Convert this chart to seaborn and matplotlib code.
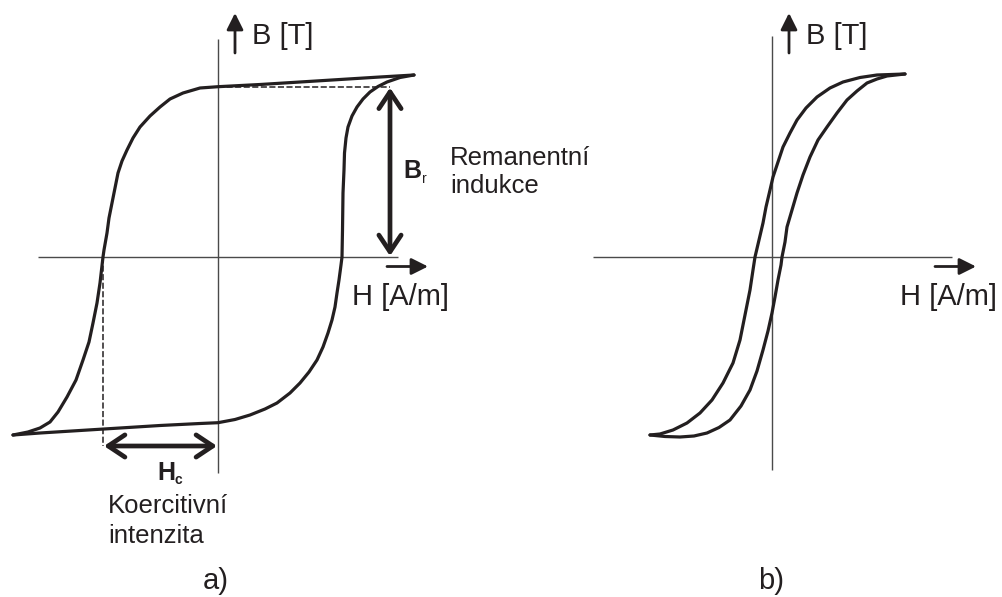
import matplotlib
matplotlib.use("Agg")
import matplotlib.pyplot as plt
import seaborn as sns

# Hysteresis loops, H and B in arbitrary units (origin at the axis crossing)
# a) hard magnetic material: wide, rectangular loop
Ha_down = [196, 162, 122, 82, 42, 0, -18, -35, -48, -58, -68, -78, -85, -91, -96,
           -100, -103, -106, -109, -111, -114, -115, -118, -121, -125, -129, -135,
           -142, -151, -160, -168, -178, -190, -205]
Ba_down = [182, 180, 177.5, 175, 172.5, 170.3, 169, 164, 158, 150, 141, 130, 119, 107,
           96, 84, 69, 54, 39, 24, 7, 0, -26, -46, -66, -85, -103, -123, -140, -155,
           -165, -171, -175, -178]
Ha_up = [-205, -178, -138, -98, -58, -18, 0, 17, 32, 47, 59, 72, 82, 91, 99, 105, 110,
         114, 117, 119, 121, 123, 124, 124.5, 125, 126, 126.5, 128, 130, 134, 139, 145,
         152, 160, 169, 182, 196]
Ba_up = [-178, -176, -173.5, -171, -168.5, -166.5, -165.7, -162.5, -158, -152, -146,
         -136, -126, -115, -103, -90, -76, -63, -50, -36, -23, -8, 0, 27, 64, 87, 104,
         119, 130, 141, 150, 158, 165, 170.5, 175, 179.5, 182]
Br_a = 170.3      # remanent induction
Hc_a = -115       # coercive intensity

# b) soft magnetic material: narrow loop
Hb_down = [133, 105, 88, 71, 58, 45, 34, 25, 18, 11, 6, 1, -2, -6, -9, -13, -17, -19,
           -22, -27, -32, -39, -49, -60, -72, -85, -99, -112, -122]
Bb_down = [183, 182, 179.5, 175, 169, 160, 149, 137, 124, 110, 95, 80, 67, 50, 34, 17,
           0, -13, -33, -58, -83, -106, -126, -143, -156, -166, -173, -177, -178]
Hb_up = [-122, -107, -92, -78, -65, -53, -42, -31, -22, -15, -9, -4, 0, 3, 6, 9, 10, 13,
         15, 20, 25, 31, 38, 46, 55, 65, 75, 85, 95, 105, 115, 133]
Bb_up = [-178, -179.5, -180, -179, -176, -170.5, -163, -149, -133, -114, -93, -74, -56,
         -40, -23, -8, 0, 15, 30, 47, 64, 82, 100, 117, 130, 144, 157, 166, 174, 178,
         181, 183]

axis_label_B = "B [T]"
axis_label_H = "H [A/m]"
panel_labels = ["a)", "b)"]

sns.set_theme(style="white")
plt.rcParams["font.family"] = ["Liberation Sans", "DejaVu Sans"]
plt.rcParams["lines.solid_joinstyle"] = "round"
plt.rcParams["lines.solid_capstyle"] = "round"

INK = "#231f20"
AXC = "#4a4a4a"

fig = plt.figure(figsize=(10.02, 5.97), dpi=100)
ax_a = fig.add_axes([0, 0, 0.5, 1])
ax_b = fig.add_axes([0.5, 0, 0.5, 1])
ax_a.set_xlim(-218, 283)
ax_b.set_xlim(-271, 230)
for ax in (ax_a, ax_b):
    ax.set_ylim(-340, 257)
    ax.set_axis_off()


def draw_axes(ax, hx, vy, h_arrow, label_h_x):
    ax.plot(hx, [0, 0], color=AXC, lw=1.0, zorder=1, solid_capstyle="butt")
    ax.plot([0, 0], vy, color=AXC, lw=1.0, zorder=1, solid_capstyle="butt")
    # direction arrows
    ax.annotate("", xy=(h_arrow[1], -9.5), xytext=(h_arrow[0], -9.5),
                arrowprops=dict(arrowstyle="-|>,head_length=0.5,head_width=0.25",
                                lw=2.0, color=INK, shrinkA=0, shrinkB=0,
                                mutation_scale=20))
    ax.annotate("", xy=(17, 244), xytext=(17, 204),
                arrowprops=dict(arrowstyle="-|>,head_length=0.5,head_width=0.25",
                                lw=2.0, color=INK, shrinkA=0, shrinkB=0,
                                mutation_scale=20))
    ax.text(34, 213, axis_label_B, fontsize=21, color=INK, ha="left", va="baseline")
    ax.text(label_h_x, -48, axis_label_H, fontsize=21, color=INK, ha="left",
            va="baseline")


# ---- panel a
ax = ax_a
draw_axes(ax, [-180, 180], [218, -216], (169, 210), 134)
ax.plot([0, 172], [Br_a, Br_a], color=INK, lw=1.1, ls=(0, (4, 1.6)), zorder=2)
ax.plot([Hc_a, Hc_a], [0, -189], color=INK, lw=1.1, ls=(0, (4, 1.6)), zorder=2)
sns.lineplot(x=Ha_down, y=Ba_down, sort=False, estimator=None, color=INK, lw=2.3,
             ax=ax, zorder=3)
sns.lineplot(x=Ha_up, y=Ba_up, sort=False, estimator=None, color=INK, lw=2.3,
             ax=ax, zorder=3)
# B_r and H_c double arrows
ax.annotate("", xy=(172, 1), xytext=(172, Br_a - 1),
            arrowprops=dict(arrowstyle="<->,head_length=0.6,head_width=0.4", lw=3.4,
                            color=INK, shrinkA=0, shrinkB=0, mutation_scale=20),
            zorder=4)
ax.annotate("", xy=(Hc_a + 1, -189), xytext=(-1, -189),
            arrowprops=dict(arrowstyle="<->,head_length=0.6,head_width=0.4", lw=3.4,
                            color=INK, shrinkA=0, shrinkB=0, mutation_scale=20),
            zorder=4)
ax.text(185, 79, "B", fontsize=18, fontweight="bold", color=INK, va="baseline")
ax.text(204, 74, "r", fontsize=10, color=INK, va="baseline")
ax.text(232, 92, "Remanentní", fontsize=18.5, color=INK, va="baseline")
ax.text(232, 64, "indukce", fontsize=18.5, color=INK, va="baseline")
ax.text(-61, -223, "H", fontsize=18, fontweight="bold", color=INK, va="baseline")
ax.text(-43, -227, "c", fontsize=10, fontweight="bold", color=INK, va="baseline")
ax.text(-110, -256, "Koercitivní", fontsize=18.5, color=INK, va="baseline")
ax.text(-110, -286, "intenzita", fontsize=18.5, color=INK, va="baseline")
ax.text(-2, -332, panel_labels[0], fontsize=21, color=INK, ha="center", va="baseline")

# ---- panel b
ax = ax_b
draw_axes(ax, [-179, 180], [221, -213], (163, 204), 128)
sns.lineplot(x=Hb_down, y=Bb_down, sort=False, estimator=None, color=INK, lw=2.3,
             ax=ax, zorder=3)
sns.lineplot(x=Hb_up, y=Bb_up, sort=False, estimator=None, color=INK, lw=2.3,
             ax=ax, zorder=3)
ax.text(-1, -332, panel_labels[1], fontsize=21, color=INK, ha="center", va="baseline")

for ax in (ax_a, ax_b):
    leg = ax.get_legend()
    if leg is not None:
        leg.remove()

fig.savefig("out.png", dpi=100, facecolor="white")
